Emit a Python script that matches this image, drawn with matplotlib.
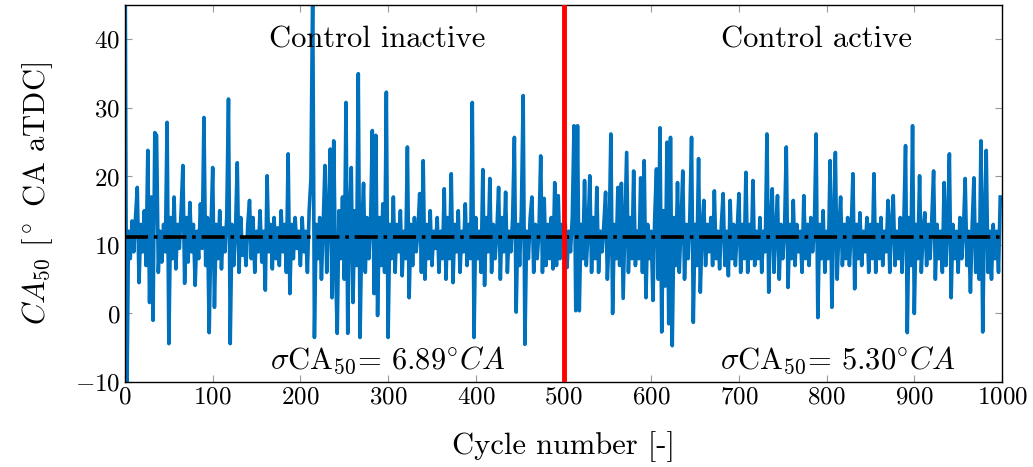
import numpy as np
import matplotlib
matplotlib.use('Agg')
import matplotlib.pyplot as plt

plt.rcParams['font.family'] = ['cmr10', 'DejaVu Serif']
plt.rcParams['mathtext.fontset'] = 'cm'
plt.rcParams['axes.formatter.use_mathtext'] = True

# CA50 per cycle, read every 2nd cycle off the picture
cycles = np.arange(0, 1000, 2)
ca50_inactive = [
    60, -15, 12, 8, 13.5, 9, 14, 18.4, 4.5, 13,
    9, 15, 7, 23.8, 1.6, 17, -1, 26.4, 26, 6,
    12, 7.5, 13, 9, 27.9, -4.4, 14, 8, 17, 6.5,
    13, 9.5, 15, 21.6, 4.4, 14, 7.5, 16.2, 9, 13,
    4.1, 12, 8, 16, 9.5, 28.6, 7, 14, -2.8, 12,
    21.3, 0.9, 13, 8, 15, 6.5, 12.5, 9, 14, 31.3,
    -4.4, 13, 7, 12, 22, 6, 14, 8.5, 11, 7,
    13, 16.5, 8, 14, 6, 12, 9, 15, 7.5, 12,
    3.4, 20.1, 9, 13, 6.5, 14, 8, 12.5, 7, 15,
    9, 13, 6, 23.3, 2.9, 13, 8, 14, 9.5, 12,
    7, 14, 9, 12, 6, 15, 19.7, 48, -3.5, 13,
    8, 14, 5, 13, 21.6, 6, 14, 24, 2.3, 25.2,
    7, -2.9, 15, 8, 17, 5, 30.8, -2.9, 14, 21.3,
    1.6, 15, 7, 35, -3.5, 12, 19, 6, 14, 8,
    13, 26.7, 2.9, 26, -0.3, 14, 7, 16, 6, 32.3,
    -3.5, 13, 8, 17, 6, 13, 9, 15, 5.5, 12,
    8, 24.3, 2.3, 13, 7, 14, 9, 12, 17.5, 6,
    22.3, 5, 13, 8, 15, 7, 12, 9.5, 14, 6,
    12, 8, 18.2, 5, 14, 8, 20.4, 4.5, 13, 9,
    15, 6, 12, 9, 16, 7, 13, 8, 30.8, -3.5,
    14, 8, 12, 6, 21, 4.1, 14, 9, 19.7, 6,
    13, 8, 12, 18.4, 5, 14, 9, 17.7, 6, 12,
    9, 14, 25.7, 0.2, 13, 7, 15, 31.8, -4.5, 12,
    8, 14, 17, 6, 13, 8, 12, 23, 6, 16.8,
    7, 13, 8, 14, 6.5, 19.1, 7, 17.2, 8, 13,
]
ca50_active = [
    10, 13, 6.7, 12, 9, 14, 27.4, 0.4, 27.4, 0.4,
    13, 8, 19.4, 7, 12, 20.1, 6, 14, 8, 18.4,
    6, 12, 9, 13, 17.7, 5, 11, 26.2, 0, 13,
    8, 18.4, 7, 19, 2.2, 13, 23.5, 6, 14, 8,
    20.8, 7, 12, 8, 19.8, 6, 22.3, 2.3, 13, 8,
    12, 1.9, 14, 21.1, 5, 27.1, -2.7, 15, 4, 25,
    -1.5, 25.7, -4.7, 14, 7, 19.1, 6, 13, 20.8, 5,
    13, 8, 14, 25.7, -1.3, 13, 7, 22.6, 3.1, 12,
    16.5, 7, 13, 9, 14, 7, 17.9, 8, 12, 6.5,
    13, 17.5, 7, 12, 5.5, 16.5, 8, 13, 7, 12,
    17.5, 6, 13, 8, 20.6, 6, 13, 8, 19.4, 7,
    12, 8, 14, 6, 12, 9, 26.2, 3.1, 13, 18.2,
    6, 12, 17.2, 5, 13, 8, 12, 24.3, 3.8, 13,
    8, 16.5, 7, 13, 9, 12, 6, 17.2, 8, 13,
    7, 14, 9, 12, 26.2, -0.6, 13, 8, 15, 6,
    12, 8, 22.3, 0.9, 13, 23.5, 5, 12, 17, 7,
    13, 8, 14, 7, 12, 20.4, 3.6, 13, 8, 14.7,
    7, 12, 9, 14, 6, 13, 8, 20.4, 6, 13,
    8, 14, 7, 12, 9, 16.5, 6, 13, 17.2, 7,
    12, 8, 14, 6, 13, 24.5, -2.8, 14, 7, 27.4,
    0, 13, 8, 20.1, 6, 12, 14.7, 7, 13, 8,
    14, 20.8, 5, 13, 8, 12, 6, 19.1, 7, 13,
    23.3, 2.3, 13, 8, 12, 6, 14, 8, 12, 19.7,
    7, 12, 3.1, 13, 19.8, 6, 13, 5, 25.2, -2.7,
    14, 23.8, 6, 12, 5, 13, 8, 12, 6, 17,
]
ca50 = ca50_inactive + ca50_active
ca50_mean = 11.1
switch_cycle = 500

fig = plt.figure(figsize=(10.33, 4.67), dpi=100)
ax = fig.add_axes([0.121, 0.182, 0.849, 0.807])

ax.plot(cycles, ca50, color='#0072BD', linewidth=2.6, zorder=2)
ax.axhline(ca50_mean, color='black', linewidth=2.6, linestyle='-.', zorder=3)
ax.axvline(switch_cycle, color='red', linewidth=3.5, zorder=4)

ax.set_xlim(0, 1000)
ax.set_ylim(-10, 45)
ax.set_xticks(np.arange(0, 1001, 100))
ax.set_yticks(np.arange(-10, 41, 10))
ax.tick_params(direction='in', top=True, right=True, length=5,
               color='#999999', labelsize=18)
for s in ax.spines.values():
    s.set_linewidth(1.0)

ax.set_xlabel('Cycle number [-]', fontsize=22, labelpad=16)
ax.set_ylabel(r'$CA_{50}$ [$^\circ$ CA aTDC]', fontsize=22, labelpad=14)

ax.text(288, 40, 'Control inactive', fontsize=22, ha='center', va='center')
ax.text(789, 40, 'Control active', fontsize=22, ha='center', va='center')
ax.text(299, -6.8, r'$\sigma$CA$_{50}$= 6.89$^{\circ}CA$', fontsize=22,
        ha='center', va='center')
ax.text(813, -6.8, r'$\sigma$CA$_{50}$= 5.30$^{\circ}CA$', fontsize=22,
        ha='center', va='center')

fig.savefig('out.png', dpi=100)
